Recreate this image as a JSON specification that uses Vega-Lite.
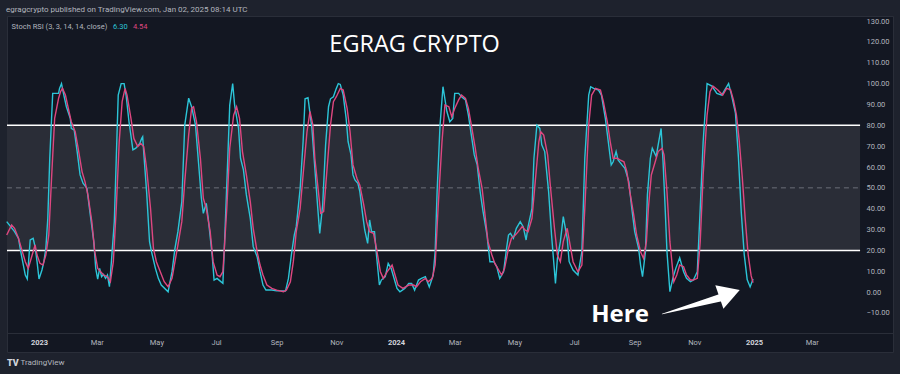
{
  "$schema": "https://vega.github.io/schema/vega-lite/v6.json",
  "width": 886,
  "height": 336,
  "autosize": {"type": "none"},
  "padding": {"left": 7, "top": 16, "right": 7, "bottom": 22},
  "background": "#1e222d",
  "config": {
    "view": {"fill": "#131722", "stroke": "#2a2e39"},
    "font": "Roboto",
    "text": {"font": "Roboto"}
  },
  "datasets": {
    "k": [
      {"date":"2022-11-29","value":33.8},{"date":"2022-12-07","value":29.0},{"date":"2022-12-11","value":25.8},{"date":"2022-12-14","value":17.8},{"date":"2022-12-18","value":8.2},{"date":"2022-12-20","value":6.3},{"date":"2022-12-23","value":25.0},{"date":"2022-12-26","value":25.8},{"date":"2022-12-28","value":21.8},{"date":"2022-12-30","value":14.6},
      {"date":"2023-01-01","value":6.3},{"date":"2023-01-04","value":10.6},{"date":"2023-01-06","value":14.6},{"date":"2023-01-08","value":21.0},{"date":"2023-01-10","value":35.4},{"date":"2023-01-12","value":64.2},{"date":"2023-01-15","value":95.3},{"date":"2023-01-21","value":95.3},{"date":"2023-01-22","value":97.7},{"date":"2023-01-24","value":100},{"date":"2023-01-26","value":95.3},{"date":"2023-01-29","value":88.9},
      {"date":"2023-02-02","value":83.3},{"date":"2023-02-03","value":78.5},{"date":"2023-02-06","value":77.7},{"date":"2023-02-09","value":67.4},{"date":"2023-02-12","value":56.2},{"date":"2023-02-15","value":52.2},{"date":"2023-02-19","value":49.8},{"date":"2023-02-22","value":38.6},{"date":"2023-02-26","value":24.2},{"date":"2023-02-28","value":11.4},
      {"date":"2023-03-02","value":6.3},{"date":"2023-03-04","value":11.4},{"date":"2023-03-06","value":7.4},{"date":"2023-03-08","value":8.5},{"date":"2023-03-10","value":6.6},{"date":"2023-03-12","value":8.2},{"date":"2023-03-14","value":2.6},{"date":"2023-03-16","value":14.6},{"date":"2023-03-19","value":33.8},{"date":"2023-03-21","value":64.2},{"date":"2023-03-23","value":94.5},{"date":"2023-03-26","value":100},{"date":"2023-03-29","value":100},{"date":"2023-03-31","value":94.5},
      {"date":"2023-04-03","value":81.7},{"date":"2023-04-07","value":68.2},{"date":"2023-04-10","value":69.0},{"date":"2023-04-14","value":71.3},{"date":"2023-04-16","value":73.7},{"date":"2023-04-17","value":74.5},{"date":"2023-04-18","value":67.4},{"date":"2023-04-21","value":48.2},{"date":"2023-04-24","value":24.2},{"date":"2023-04-26","value":19.4},{"date":"2023-04-30","value":11.4},
      {"date":"2023-05-03","value":6.6},{"date":"2023-05-06","value":3.4},{"date":"2023-05-13","value":0.2},{"date":"2023-05-17","value":9.8},{"date":"2023-05-20","value":21.0},{"date":"2023-05-23","value":29.0},{"date":"2023-05-27","value":43.4},{"date":"2023-05-30","value":80.1},
      {"date":"2023-06-03","value":93.0},{"date":"2023-06-06","value":88.9},{"date":"2023-06-10","value":80.1},{"date":"2023-06-13","value":62.5},{"date":"2023-06-16","value":45.0},{"date":"2023-06-18","value":37.8},{"date":"2023-06-21","value":42.6},{"date":"2023-06-23","value":35.4},{"date":"2023-06-27","value":17.8},{"date":"2023-06-29","value":5.8},
      {"date":"2023-07-02","value":6.6},{"date":"2023-07-05","value":5.4},{"date":"2023-07-08","value":4.2},{"date":"2023-07-10","value":27.4},{"date":"2023-07-13","value":64.2},{"date":"2023-07-15","value":89.7},{"date":"2023-07-18","value":100},{"date":"2023-07-20","value":89.7},{"date":"2023-07-24","value":78.5},{"date":"2023-07-26","value":64.2},{"date":"2023-07-29","value":58.6},
      {"date":"2023-08-01","value":46.6},{"date":"2023-08-05","value":35.4},{"date":"2023-08-08","value":21.8},{"date":"2023-08-12","value":17.0},{"date":"2023-08-15","value":9.8},{"date":"2023-08-18","value":3.4},{"date":"2023-08-21","value":1.0},{"date":"2023-08-27","value":1.0},
      {"date":"2023-09-01","value":0.6},{"date":"2023-09-08","value":0.6},{"date":"2023-09-10","value":0.5},{"date":"2023-09-13","value":6.6},{"date":"2023-09-16","value":17.8},{"date":"2023-09-19","value":27.4},{"date":"2023-09-21","value":31.4},{"date":"2023-09-25","value":49.8},{"date":"2023-09-28","value":72.1},{"date":"2023-09-30","value":92.7},
      {"date":"2023-10-03","value":93.2},{"date":"2023-10-07","value":78.5},{"date":"2023-10-10","value":59.4},{"date":"2023-10-13","value":40.2},{"date":"2023-10-15","value":28.2},{"date":"2023-10-18","value":41.8},{"date":"2023-10-21","value":70.6},{"date":"2023-10-24","value":88.9},{"date":"2023-10-26","value":92.7},{"date":"2023-10-29","value":93.7},
      {"date":"2023-11-01","value":97.7},{"date":"2023-11-03","value":100},{"date":"2023-11-05","value":99.6},{"date":"2023-11-08","value":94.5},{"date":"2023-11-11","value":83.3},{"date":"2023-11-13","value":72.1},{"date":"2023-11-16","value":65.8},{"date":"2023-11-18","value":56.2},{"date":"2023-11-20","value":53.8},{"date":"2023-11-23","value":52.2},{"date":"2023-11-25","value":48.2},{"date":"2023-11-28","value":36.7},{"date":"2023-11-30","value":29.8},
      {"date":"2023-12-03","value":23.4},{"date":"2023-12-05","value":34.6},{"date":"2023-12-07","value":29.0},{"date":"2023-12-10","value":29.0},{"date":"2023-12-12","value":17.8},{"date":"2023-12-15","value":3.4},{"date":"2023-12-17","value":5.8},{"date":"2023-12-21","value":7.4},{"date":"2023-12-24","value":13.8},{"date":"2023-12-27","value":11.4},{"date":"2023-12-29","value":8.2},
      {"date":"2024-01-02","value":1.8},{"date":"2024-01-05","value":0.2},{"date":"2024-01-10","value":1.8},{"date":"2024-01-14","value":4.2},{"date":"2024-01-17","value":4.2},{"date":"2024-01-20","value":1.0},{"date":"2024-01-24","value":5.8},{"date":"2024-01-27","value":6.6},{"date":"2024-01-31","value":7.4},
      {"date":"2024-02-04","value":2.5},{"date":"2024-02-08","value":8.2},{"date":"2024-02-10","value":19.4},{"date":"2024-02-12","value":48.2},{"date":"2024-02-15","value":80.1},{"date":"2024-02-18","value":98.5},{"date":"2024-02-22","value":86.6},{"date":"2024-02-25","value":81.7},{"date":"2024-02-28","value":83.3},
      {"date":"2024-03-01","value":95.3},{"date":"2024-03-05","value":95.3},{"date":"2024-03-08","value":93.7},{"date":"2024-03-12","value":92.2},{"date":"2024-03-15","value":84.9},{"date":"2024-03-18","value":75.3},{"date":"2024-03-21","value":65.8},{"date":"2024-03-24","value":61.0},{"date":"2024-03-27","value":48.2},{"date":"2024-03-30","value":38.6},
      {"date":"2024-04-03","value":27.4},{"date":"2024-04-06","value":14.6},{"date":"2024-04-10","value":14.6},{"date":"2024-04-13","value":12.2},{"date":"2024-04-16","value":6.6},{"date":"2024-04-20","value":9.8},{"date":"2024-04-23","value":21.0},{"date":"2024-04-25","value":27.4},{"date":"2024-04-27","value":28.2},{"date":"2024-04-30","value":25.8},
      {"date":"2024-05-03","value":30.6},{"date":"2024-05-07","value":33.8},{"date":"2024-05-10","value":31.4},{"date":"2024-05-13","value":25.0},{"date":"2024-05-15","value":31.4},{"date":"2024-05-19","value":40.2},{"date":"2024-05-21","value":64.2},{"date":"2024-05-24","value":80.1},{"date":"2024-05-27","value":78.5},{"date":"2024-05-29","value":70.6},
      {"date":"2024-06-01","value":67.4},{"date":"2024-06-05","value":48.2},{"date":"2024-06-08","value":27.4},{"date":"2024-06-12","value":4.2},{"date":"2024-06-14","value":16.2},{"date":"2024-06-17","value":24.2},{"date":"2024-06-20","value":36.2},{"date":"2024-06-24","value":25.8},{"date":"2024-06-26","value":14.6},{"date":"2024-06-30","value":10.6},
      {"date":"2024-07-05","value":8.2},{"date":"2024-07-09","value":19.4},{"date":"2024-07-12","value":64.2},{"date":"2024-07-16","value":94.5},{"date":"2024-07-18","value":98.5},{"date":"2024-07-21","value":97.7},{"date":"2024-07-26","value":96.9},{"date":"2024-07-29","value":94.5},
      {"date":"2024-08-02","value":83.3},{"date":"2024-08-05","value":72.1},{"date":"2024-08-08","value":61.0},{"date":"2024-08-10","value":62.5},{"date":"2024-08-13","value":67.4},{"date":"2024-08-15","value":63.4},{"date":"2024-08-19","value":61.0},{"date":"2024-08-22","value":59.4},{"date":"2024-08-26","value":53.0},{"date":"2024-08-29","value":40.2},
      {"date":"2024-09-01","value":29.0},{"date":"2024-09-05","value":21.0},{"date":"2024-09-07","value":13.0},{"date":"2024-09-09","value":7.4},{"date":"2024-09-12","value":19.4},{"date":"2024-09-14","value":46.6},{"date":"2024-09-17","value":64.2},{"date":"2024-09-19","value":69.0},{"date":"2024-09-23","value":65.0},{"date":"2024-09-25","value":70.6},{"date":"2024-09-28","value":78.5},{"date":"2024-09-30","value":62.5},
      {"date":"2024-10-02","value":41.8},{"date":"2024-10-04","value":19.4},{"date":"2024-10-07","value":0.2},{"date":"2024-10-10","value":6.6},{"date":"2024-10-13","value":11.4},{"date":"2024-10-17","value":16.5},{"date":"2024-10-21","value":9.8},{"date":"2024-10-24","value":6.6},{"date":"2024-10-28","value":5.0},{"date":"2024-10-31","value":5.8},
      {"date":"2024-11-04","value":9.8},{"date":"2024-11-07","value":40.2},{"date":"2024-11-10","value":72.1},{"date":"2024-11-14","value":100},{"date":"2024-11-19","value":98.8},{"date":"2024-11-24","value":95.3},{"date":"2024-11-29","value":94.5},
      {"date":"2024-12-02","value":96.9},{"date":"2024-12-06","value":100},{"date":"2024-12-09","value":94.5},{"date":"2024-12-13","value":85.8},{"date":"2024-12-16","value":65.0},{"date":"2024-12-19","value":38.0},{"date":"2024-12-22","value":18.0},{"date":"2024-12-25","value":6.0},{"date":"2024-12-28","value":2.5},{"date":"2024-12-31","value":6.3}
    ],
    "d": [
      {"date":"2022-11-29","value":27.4},{"date":"2022-12-04","value":32.2},{"date":"2022-12-07","value":30.6},{"date":"2022-12-11","value":25.8},{"date":"2022-12-14","value":21.0},{"date":"2022-12-18","value":14.6},{"date":"2022-12-21","value":11.4},{"date":"2022-12-25","value":17.8},{"date":"2022-12-28","value":22.6},{"date":"2022-12-30","value":17.8},
      {"date":"2023-01-02","value":13.8},{"date":"2023-01-05","value":13.0},{"date":"2023-01-08","value":17.8},{"date":"2023-01-11","value":27.4},{"date":"2023-01-14","value":56.2},{"date":"2023-01-17","value":83.3},{"date":"2023-01-21","value":92.9},{"date":"2023-01-23","value":96.1},{"date":"2023-01-25","value":97.7},{"date":"2023-01-28","value":94.5},{"date":"2023-01-31","value":88.1},
      {"date":"2023-02-03","value":81.7},{"date":"2023-02-07","value":76.9},{"date":"2023-02-10","value":69.0},{"date":"2023-02-14","value":57.8},{"date":"2023-02-17","value":53.0},{"date":"2023-02-20","value":46.6},{"date":"2023-02-24","value":33.8},{"date":"2023-02-27","value":19.4},
      {"date":"2023-03-02","value":11.4},{"date":"2023-03-05","value":9.8},{"date":"2023-03-08","value":8.2},{"date":"2023-03-12","value":7.4},{"date":"2023-03-15","value":5.0},{"date":"2023-03-18","value":14.6},{"date":"2023-03-21","value":40.2},{"date":"2023-03-24","value":72.1},{"date":"2023-03-27","value":91.3},{"date":"2023-03-30","value":97.7},
      {"date":"2023-04-01","value":94.5},{"date":"2023-04-05","value":83.3},{"date":"2023-04-08","value":73.7},{"date":"2023-04-12","value":69.8},{"date":"2023-04-15","value":71.3},{"date":"2023-04-18","value":69.8},{"date":"2023-04-21","value":59.4},{"date":"2023-04-25","value":40.2},{"date":"2023-04-28","value":21.0},
      {"date":"2023-05-01","value":14.6},{"date":"2023-05-05","value":9.8},{"date":"2023-05-09","value":5.0},{"date":"2023-05-13","value":2.6},{"date":"2023-05-17","value":6.6},{"date":"2023-05-20","value":14.6},{"date":"2023-05-23","value":22.6},{"date":"2023-05-27","value":33.8},{"date":"2023-05-30","value":53.0},
      {"date":"2023-06-03","value":75.3},{"date":"2023-06-06","value":88.1},{"date":"2023-06-08","value":88.9},{"date":"2023-06-11","value":81.7},{"date":"2023-06-15","value":64.2},{"date":"2023-06-18","value":45.0},{"date":"2023-06-21","value":40.2},{"date":"2023-06-25","value":29.0},{"date":"2023-06-28","value":14.6},
      {"date":"2023-07-02","value":8.2},{"date":"2023-07-05","value":7.4},{"date":"2023-07-08","value":9.8},{"date":"2023-07-12","value":40.2},{"date":"2023-07-15","value":69.0},{"date":"2023-07-19","value":84.9},{"date":"2023-07-22","value":88.9},{"date":"2023-07-25","value":83.3},{"date":"2023-07-28","value":67.4},
      {"date":"2023-08-01","value":56.2},{"date":"2023-08-05","value":43.4},{"date":"2023-08-08","value":30.6},{"date":"2023-08-12","value":19.4},{"date":"2023-08-15","value":13.0},{"date":"2023-08-18","value":8.2},{"date":"2023-08-22","value":3.4},{"date":"2023-08-27","value":1.8},
      {"date":"2023-09-01","value":1.0},{"date":"2023-09-08","value":0.2},{"date":"2023-09-11","value":1.0},{"date":"2023-09-15","value":5.0},{"date":"2023-09-18","value":14.6},{"date":"2023-09-21","value":29.0},{"date":"2023-09-25","value":40.2},{"date":"2023-09-28","value":56.2},
      {"date":"2023-10-02","value":77.0},{"date":"2023-10-05","value":86.6},{"date":"2023-10-08","value":80.1},{"date":"2023-10-10","value":64.2},{"date":"2023-10-14","value":46.6},{"date":"2023-10-16","value":37.8},{"date":"2023-10-19","value":38.6},{"date":"2023-10-22","value":56.2},{"date":"2023-10-26","value":80.1},{"date":"2023-10-29","value":91.3},
      {"date":"2023-11-01","value":93.7},{"date":"2023-11-05","value":97.7},{"date":"2023-11-08","value":96.9},{"date":"2023-11-12","value":88.1},{"date":"2023-11-15","value":76.9},{"date":"2023-11-18","value":61.0},{"date":"2023-11-22","value":54.6},{"date":"2023-11-25","value":51.3},{"date":"2023-11-29","value":41.8},
      {"date":"2023-12-02","value":33.8},{"date":"2023-12-05","value":29.0},{"date":"2023-12-09","value":28.2},{"date":"2023-12-12","value":21.0},{"date":"2023-12-16","value":9.8},{"date":"2023-12-19","value":6.6},{"date":"2023-12-23","value":9.8},{"date":"2023-12-28","value":13.0},{"date":"2023-12-31","value":8.2},
      {"date":"2024-01-03","value":3.4},{"date":"2024-01-08","value":1.8},{"date":"2024-01-14","value":3.4},{"date":"2024-01-19","value":3.4},{"date":"2024-01-22","value":2.6},{"date":"2024-01-26","value":5.0},{"date":"2024-01-31","value":6.6},
      {"date":"2024-02-03","value":5.0},{"date":"2024-02-07","value":6.6},{"date":"2024-02-10","value":13.0},{"date":"2024-02-13","value":40.2},{"date":"2024-02-17","value":72.1},{"date":"2024-02-20","value":89.7},{"date":"2024-02-24","value":88.9},{"date":"2024-02-27","value":84.1},
      {"date":"2024-03-01","value":88.1},{"date":"2024-03-05","value":92.2},{"date":"2024-03-08","value":94.5},{"date":"2024-03-12","value":92.9},{"date":"2024-03-15","value":88.1},{"date":"2024-03-18","value":80.1},{"date":"2024-03-22","value":69.0},{"date":"2024-03-25","value":59.4},{"date":"2024-03-29","value":49.8},
      {"date":"2024-04-01","value":37.0},{"date":"2024-04-04","value":24.2},{"date":"2024-04-08","value":17.8},{"date":"2024-04-11","value":13.8},{"date":"2024-04-15","value":10.6},{"date":"2024-04-18","value":8.2},{"date":"2024-04-21","value":11.4},{"date":"2024-04-25","value":21.0},{"date":"2024-04-28","value":25.8},
      {"date":"2024-05-02","value":27.4},{"date":"2024-05-05","value":29.0},{"date":"2024-05-09","value":31.4},{"date":"2024-05-12","value":29.8},{"date":"2024-05-15","value":29.0},{"date":"2024-05-19","value":35.4},{"date":"2024-05-22","value":51.3},{"date":"2024-05-26","value":72.1},{"date":"2024-05-28","value":76.9},{"date":"2024-05-31","value":75.3},
      {"date":"2024-06-04","value":65.8},{"date":"2024-06-07","value":49.8},{"date":"2024-06-11","value":30.6},{"date":"2024-06-14","value":17.8},{"date":"2024-06-17","value":14.6},{"date":"2024-06-20","value":24.2},{"date":"2024-06-24","value":30.6},{"date":"2024-06-27","value":22.6},{"date":"2024-06-30","value":14.6},
      {"date":"2024-07-05","value":9.8},{"date":"2024-07-09","value":13.0},{"date":"2024-07-12","value":40.2},{"date":"2024-07-16","value":80.1},{"date":"2024-07-19","value":94.5},{"date":"2024-07-23","value":97.7},{"date":"2024-07-28","value":96.9},{"date":"2024-07-31","value":91.3},
      {"date":"2024-08-04","value":81.7},{"date":"2024-08-07","value":72.1},{"date":"2024-08-10","value":64.2},{"date":"2024-08-14","value":64.2},{"date":"2024-08-17","value":63.4},{"date":"2024-08-21","value":62.5},{"date":"2024-08-24","value":57.8},{"date":"2024-08-27","value":48.2},{"date":"2024-08-31","value":37.0},
      {"date":"2024-09-03","value":27.4},{"date":"2024-09-07","value":19.4},{"date":"2024-09-10","value":16.2},{"date":"2024-09-13","value":24.2},{"date":"2024-09-15","value":40.2},{"date":"2024-09-18","value":56.2},{"date":"2024-09-22","value":62.5},{"date":"2024-09-25","value":67.4},{"date":"2024-09-29","value":69.0},
      {"date":"2024-10-01","value":65.8},{"date":"2024-10-04","value":48.2},{"date":"2024-10-07","value":24.2},{"date":"2024-10-11","value":5.0},{"date":"2024-10-14","value":8.2},{"date":"2024-10-17","value":13.0},{"date":"2024-10-21","value":12.2},{"date":"2024-10-24","value":8.2},{"date":"2024-10-28","value":5.8},{"date":"2024-10-31","value":5.8},
      {"date":"2024-11-04","value":6.6},{"date":"2024-11-07","value":24.2},{"date":"2024-11-10","value":56.2},{"date":"2024-11-14","value":84.9},{"date":"2024-11-17","value":96.1},{"date":"2024-11-20","value":98.8},{"date":"2024-11-25","value":96.9},{"date":"2024-11-30","value":94.5},
      {"date":"2024-12-04","value":97.7},{"date":"2024-12-08","value":97.0},{"date":"2024-12-11","value":92.0},{"date":"2024-12-14","value":85.0},{"date":"2024-12-17","value":72.0},{"date":"2024-12-20","value":55.0},{"date":"2024-12-23","value":35.0},{"date":"2024-12-26","value":18.0},{"date":"2024-12-29","value":8.0},{"date":"2024-12-31","value":4.54}
    ]
  },
  "encoding": {
    "x": {
      "field": "date",
      "type": "temporal",
      "scale": {
        "type": "utc",
        "domain": [
          {"year": 2022, "month": 11, "date": 29, "hours": 6, "minutes": 43, "utc": true},
          {"year": 2025, "month": 5, "date": 23, "hours": 2, "utc": true}
        ]
      },
      "axis": {
        "orient": "bottom",
        "offset": -19,
        "title": null,
        "grid": false,
        "ticks": false,
        "domain": true,
        "domainColor": "#2a2e39",
        "labelFlush": false,
        "labelPadding": 5,
        "labelFontSize": 7.5,
        "labelFont": "Roboto",
        "values": [
          {"year": 2023, "month": 1, "date": 1, "utc": true},
          {"year": 2023, "month": 3, "date": 1, "utc": true},
          {"year": 2023, "month": 5, "date": 1, "utc": true},
          {"year": 2023, "month": 7, "date": 1, "utc": true},
          {"year": 2023, "month": 9, "date": 1, "utc": true},
          {"year": 2023, "month": 11, "date": 1, "utc": true},
          {"year": 2024, "month": 1, "date": 1, "utc": true},
          {"year": 2024, "month": 3, "date": 1, "utc": true},
          {"year": 2024, "month": 5, "date": 1, "utc": true},
          {"year": 2024, "month": 7, "date": 1, "utc": true},
          {"year": 2024, "month": 9, "date": 1, "utc": true},
          {"year": 2024, "month": 11, "date": 1, "utc": true},
          {"year": 2025, "month": 1, "date": 1, "utc": true},
          {"year": 2025, "month": 3, "date": 1, "utc": true}
        ],
        "labelExpr": "utcmonth(datum.value) == 0 ? utcFormat(datum.value, '%Y') : utcFormat(datum.value, '%b')",
        "labelColor": {"condition": {"test": "utcmonth(datum.value) == 0", "value": "#d1d4dc"}, "value": "#b2b5be"},
        "labelFontWeight": {"condition": {"test": "utcmonth(datum.value) == 0", "value": "bold"}, "value": "normal"}
      }
    },
    "y": {
      "field": "value",
      "type": "quantitative",
      "scale": {"domain": [-28.7, 132.4], "nice": false, "zero": false},
      "axis": {
        "orient": "right",
        "offset": -33,
        "title": null,
        "grid": false,
        "ticks": false,
        "domain": false,
        "values": [-10, 0, 10, 20, 30, 40, 50, 60, 70, 80, 90, 100, 110, 120, 130],
        "format": ".2f",
        "labelAlign": "left",
        "labelPadding": 6,
        "labelColor": "#b2b5be",
        "labelFontSize": 7.5,
        "labelFont": "Roboto"
      }
    }
  },
  "layer": [
    {
      "data": {"values": [{"date": "2022-11-20", "end": "2025-04-19T10:00Z", "value": 20, "top": 80}]},
      "mark": {"type": "rect", "color": "#2a2d37", "clip": true},
      "encoding": {"x2": {"field": "end"}, "y2": {"field": "top"}}
    },
    {
      "data": {"values": [{"date": "2022-11-20", "end": "2025-04-19T10:00Z", "value": 50}]},
      "mark": {"type": "rule", "color": "#6b6e78", "strokeWidth": 1, "strokeDash": [5, 4], "clip": true},
      "encoding": {"x2": {"field": "end"}}
    },
    {
      "data": {"values": [
        {"date": "2022-11-20", "end": "2025-04-19T10:00Z", "value": 20},
        {"date": "2022-11-20", "end": "2025-04-19T10:00Z", "value": 80}
      ]},
      "mark": {"type": "rule", "color": "#ffffff", "strokeWidth": 1.5, "clip": true},
      "encoding": {"x2": {"field": "end"}}
    },
    {
      "data": {"name": "k"},
      "mark": {"type": "line", "color": "#2cc5d8", "strokeWidth": 1.4},
      "encoding": {}
    },
    {
      "data": {"name": "d"},
      "mark": {"type": "line", "color": "#de4780", "strokeWidth": 1.4},
      "encoding": {}
    },
    {
      "data": {"values": [{"date": "2024-01-20", "value": 118.5, "label": "EGRAG CRYPTO"}]},
      "mark": {"type": "text", "font": "Open Sans", "fontSize": 23.5, "color": "#ffffff", "align": "center", "baseline": "middle"},
      "encoding": {"text": {"field": "label"}}
    },
    {
      "data": {"values": [{"date": "2022-11-28T07:00Z", "value": 135.3, "label": "egragcrypto published on TradingView.com, Jan 02, 2025 08:14 UTC"}]},
      "mark": {"type": "text", "fontSize": 8, "color": "#b2b5be", "align": "left", "baseline": "middle"},
      "encoding": {"text": {"field": "label"}}
    },
    {
      "data": {"values": [{"date": "2022-12-04", "value": 127.1, "label": "Stoch RSI (3, 3, 14, 14, close)"}]},
      "mark": {"type": "text", "fontSize": 7.5, "color": "#b2b5be", "align": "left", "baseline": "middle"},
      "encoding": {"text": {"field": "label"}}
    },
    {
      "data": {"values": [{"date": "2023-03-17T16:00Z", "value": 127.1, "label": "6.30"}]},
      "mark": {"type": "text", "fontSize": 7.5, "color": "#2cc5d8", "align": "left", "baseline": "middle"},
      "encoding": {"text": {"field": "label"}}
    },
    {
      "data": {"values": [{"date": "2023-04-07", "value": 127.1, "label": "4.54"}]},
      "mark": {"type": "text", "fontSize": 7.5, "color": "#de4780", "align": "left", "baseline": "middle"},
      "encoding": {"text": {"field": "label"}}
    },
    {
      "data": {"values": [{"date": "2024-08-17", "value": -11, "label": "Here"}]},
      "mark": {"type": "text", "font": "Open Sans", "fontSize": 24, "fontWeight": "bold", "color": "#ffffff", "align": "center", "baseline": "middle"},
      "encoding": {"text": {"field": "label"}}
    },
    {
      "data": {"values": [
        {"date": "2024-09-29", "value": -10.5, "t": 0},
        {"date": "2024-11-28", "value": -2.6, "t": 1}
      ]},
      "mark": {"type": "trail", "color": "#ffffff"},
      "encoding": {"size": {"field": "t", "type": "quantitative", "scale": {"domain": [0, 1], "range": [0.5, 7.5]}, "legend": null}}
    },
    {
      "data": {"values": [{"date": "2024-12-07", "value": -0.6}]},
      "mark": {"type": "point", "shape": "triangle-right", "filled": true, "color": "#ffffff", "opacity": 1, "size": 620, "angle": 341},
      "encoding": {}
    },
    {
      "data": {"values": [{"date": "2022-11-29T07:00Z", "value": -34, "label": "TV"}]},
      "mark": {"type": "text", "fontSize": 9, "fontWeight": 900, "color": "#d1d4dc", "align": "left", "baseline": "middle"},
      "encoding": {"text": {"field": "label"}}
    },
    {
      "data": {"values": [{"date": "2022-12-13", "value": -34, "label": "TradingView"}]},
      "mark": {"type": "text", "fontSize": 8, "color": "#b2b5be", "align": "left", "baseline": "middle"},
      "encoding": {"text": {"field": "label"}}
    }
  ]
}
